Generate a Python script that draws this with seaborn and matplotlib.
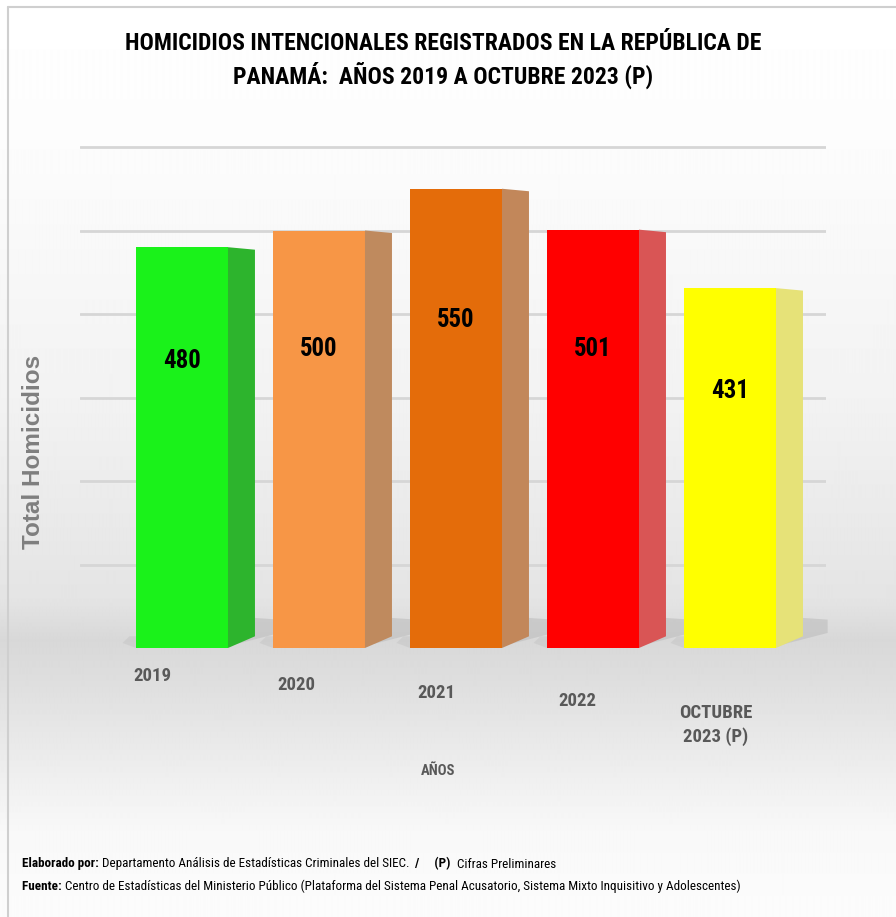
import numpy as np
import pandas as pd
import matplotlib
matplotlib.use("Agg")
import matplotlib.pyplot as plt
import matplotlib.font_manager as fm
import seaborn as sns
from matplotlib.transforms import ScaledTranslation
from matplotlib.patches import Polygon

# ---------------- data ----------------
categories = ["2019", "2020", "2021", "2022", "OCTUBRE\n2023 (P)"]
values = [480, 500, 550, 501, 431]
value_labels = ["480", "500", "550", "501", "431"]
front_colors = ["#1AF21A", "#F79646", "#E46C0A", "#FF0000", "#FFFF00"]
side_colors = ["#2DB42D", "#BF8A5E", "#C2875A", "#D95555", "#E6E278"]
grid_values = [100, 200, 300, 400, 500, 600]

title_1 = "HOMICIDIOS INTENCIONALES REGISTRADOS EN LA REPÚBLICA DE"
title_2 = "PANAMÁ:  AÑOS 2019 A OCTUBRE 2023 (P)"
y_label = "Total Homicidios"
x_label = "AÑOS"
foot_1_bold = "Elaborado por: "
foot_1 = "Departamento Análisis de Estadísticas Criminales del SIEC.  "
foot_1_bold_b = "/     (P)  "
foot_1_c = "Cifras Preliminares"
foot_2_bold = "Fuente: "
foot_2 = ("Centro de Estadísticas del Ministerio Público (Plataforma del Sistema Penal "
          "Acusatorio, Sistema Mixto Inquisitivo y Adolescentes)")

# ---------------- style ----------------
sns.set_theme(style="white")
names = {f.name for f in fm.fontManager.ttflist}
if "Liberation Sans Narrow" in names:
    NF, k = "Liberation Sans Narrow", 1.0
elif "Roboto Condensed" in names:
    NF, k = "Roboto Condensed", 0.97
else:
    NF, k = "Liberation Sans", 0.84
NARROW = [NF, "DejaVu Sans"]
ARIAL = ["Liberation Sans", "DejaVu Sans"]
plt.rcParams["font.family"] = NARROW

W, H = 896, 917
fig = plt.figure(figsize=(W / 100, H / 100), dpi=100)

# background gradient
bg = fig.add_axes([0, 0, 1, 1], zorder=-10)
rows = np.arange(H)
shade = np.interp(rows, [0, 150, 400, 600, 640, 680, 760, 830, 917],
                  [255, 252, 242, 228, 216, 222, 236, 248, 252])
img = np.repeat((shade / 255.0)[:, None], 4, axis=1)
bg.imshow(img, cmap="gray", vmin=0, vmax=1, aspect="auto",
          extent=[0, W, H, 0], interpolation="bilinear")
bg.plot([8, 8], [7, H], color="#CFCFCF", lw=1.5)
bg.plot([8, W], [7, 7], color="#CFCFCF", lw=1.5)
bg.set_xlim(0, W)
bg.set_ylim(H, 0)
bg.axis("off")

# main axes
base_px, top_px = 648, 140
scale = 0.835
ax = fig.add_axes([80 / W, 1 - base_px / H, 746 / W, (base_px - top_px) / H])
ax.patch.set_alpha(0)

df = pd.DataFrame({"year": categories, "value": values})
sns.barplot(data=df, x="year", y="value", hue="year", palette=front_colors,
            width=0.67, saturation=1, legend=False, ax=ax, zorder=3,
            linewidth=0)

ax.set_xlim(-0.745, 4.70)
ax.set_ylim(0, (base_px - top_px) / scale)
ax.set_yticks(grid_values)
ax.set_yticklabels([])
ax.yaxis.grid(True, color="#D6D6D6", lw=2)
ax.set_axisbelow(True)
for s in ax.spines.values():
    s.set_visible(False)
ax.tick_params(axis="y", length=0)
ax.tick_params(axis="x", length=0, pad=14)
ax.set_xlabel("")
ax.set_ylabel("")

# side faces, shadows
d = 0.197
rise = 14
bars = ax.patches[:len(values)]
for p, sc in zip(bars, side_colors):
    xr = p.get_x() + p.get_width()
    xl = p.get_x()
    h = p.get_height()
    shadow = Polygon([(xr - 0.05, 0), (xr + d + 0.18, rise + 4), (xr + d + 0.18, rise + 20),
                      (xr + d, rise + 22), (xr, 6)],
                     closed=True, facecolor="#BDBDBD", edgecolor="none", alpha=0.6,
                     zorder=2, clip_on=False)
    ax.add_patch(shadow)
    left_sh = Polygon([(xl - 0.1, 6), (xl, 0), (xl, 14), (xl - 0.05, 14)],
                      closed=True, facecolor="#C4C4C4", edgecolor="none", alpha=0.5,
                      zorder=2, clip_on=False)
    ax.add_patch(left_sh)
    side = Polygon([(xr, 0), (xr + d, rise), (xr + d, h - 3), (xr, h)],
                   closed=True, facecolor=sc, edgecolor="none", zorder=3, clip_on=False)
    ax.add_patch(side)

# value labels
for p, lab in zip(bars, value_labels):
    cx = p.get_x() + p.get_width() / 2
    h = p.get_height()
    ax.text(cx, h * 0.715, lab, ha="center", va="center", fontsize=18.5 * k,
            fontweight="bold", color="black", zorder=5)

# tick labels, sloping with the perspective
ax.set_xticks(range(len(categories)))
ax.set_xticklabels(categories, fontsize=13.9 * k, fontweight="bold", color="#595959",
                   linespacing=1.3)
dxs = [-30, -23, -20, -16, -14]
dys = [0, 9, 17, 25, 37]
for lab, dx, dy in zip(ax.get_xticklabels(), dxs, dys):
    lab.set_transform(lab.get_transform() +
                      ScaledTranslation(dx / 100, -dy / 100, fig.dpi_scale_trans))

# texts
fig.text(0.495, 1 - 43 / H, title_1, ha="center", va="center", fontsize=17.5 * k,
         fontweight="bold", color="black")
fig.text(0.495, 1 - 75 / H, title_2, ha="center", va="center", fontsize=17.5 * k,
         fontweight="bold", color="black")
fig.text(33 / W, 1 - 452 / H, y_label, rotation=90, ha="center", va="center",
         fontsize=17.5, fontweight="bold", color="#7F7F7F", family=ARIAL)
fig.text(438 / W, 1 - 771 / H, x_label, ha="center", va="center", fontsize=10.9 * k,
         fontweight="bold", color="#595959")

fs = 9.75 * k
t1 = fig.text(22 / W, 1 - 864 / H, foot_1_bold, ha="left", va="center",
              fontsize=fs, fontweight="bold", color="black")
a1 = ax.annotate(foot_1, xy=(1, 0.5), xycoords=t1, va="center", ha="left",
                 fontsize=fs, color="black", annotation_clip=False)
a2 = ax.annotate(foot_1_bold_b, xy=(1, 0.5), xycoords=a1, va="center", ha="left",
                 fontsize=fs, fontweight="bold", color="black", annotation_clip=False)
ax.annotate(foot_1_c, xy=(1, 0.5), xycoords=a2, va="center", ha="left",
            fontsize=fs, color="black", annotation_clip=False)
t2 = fig.text(22 / W, 1 - 886 / H, foot_2_bold, ha="left", va="center",
              fontsize=fs, fontweight="bold", color="black")
ax.annotate(foot_2, xy=(1, 0.5), xycoords=t2, va="center", ha="left",
            fontsize=fs, color="black", annotation_clip=False)

fig.savefig("out.png", dpi=100)
